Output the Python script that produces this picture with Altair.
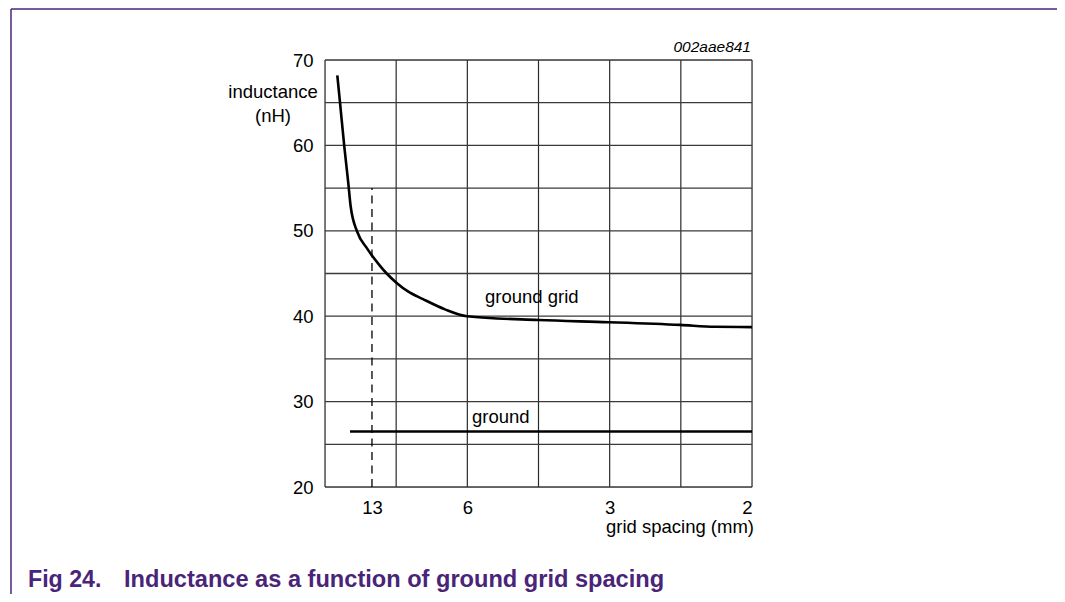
import altair as alt
import pandas as pd

# x positions are in grid-column units (6 columns across the plot)
curve_x = [0.173, 0.211, 0.271, 0.327, 0.36, 0.454, 0.586, 0.66, 0.773, 0.867, 1.007, 1.166, 1.377,
           1.686, 1.995, 3.0, 3.99, 4.99, 5.48, 6.0]
curve_y = [68.2, 65.0, 59.9, 55.6, 52.9, 49.86, 48.0, 47.1, 45.9, 45.0, 43.9, 42.9, 42.0,
           40.8, 40.0, 39.55, 39.3, 38.98, 38.76, 38.72]
ground_x = [0.351, 6.0]
ground_y = [26.5, 26.5]
marker_x = [0.66, 0.66]
marker_y = [20, 55]
vgrid = [0, 1, 2, 3, 4, 5, 6]
hgrid = [20, 25, 30, 35, 40, 45, 50, 55, 60, 65, 70]
ytick_values = [20, 30, 40, 50, 60, 70]
xtick_pos = [0.66, 2, 4, 6]
xtick_labels = ["13", "6", "3", "2"]

FONT = "Liberation Sans"
PURPLE = "#4a2479"
W, H = 427, 427
FS = 18.5

label_expr = "".join(
    f"abs(datum.value-{p})<0.01 ? '{l}' : " for p, l in zip(xtick_pos, xtick_labels)
) + "''"

xs = alt.Scale(domain=[0, 6], nice=False, zero=False)
ys = alt.Scale(domain=[20, 70], nice=False, zero=False)

xaxis = alt.Axis(values=xtick_pos, labelExpr=label_expr, title=None, grid=False, ticks=False,
                 tickSize=0, domain=False, labelFont=FONT, labelFontSize=FS, labelColor="#000",
                 labelPadding=11)
yaxis = alt.Axis(values=ytick_values, title=None, grid=False, ticks=False, tickSize=0, domain=False,
                 labelFont=FONT, labelFontSize=FS, labelColor="#000", labelPadding=12)

vg = alt.Chart(pd.DataFrame({"x": vgrid})).mark_rule(color="#2a2a2a", strokeWidth=1.2).encode(
    x=alt.X("x:Q", scale=xs, axis=xaxis))
hg = alt.Chart(pd.DataFrame({"y": hgrid})).mark_rule(color="#3a3a3a", strokeWidth=1.3).encode(
    y=alt.Y("y:Q", scale=ys, axis=yaxis))

curve = alt.Chart(pd.DataFrame({"x": curve_x, "y": curve_y})).mark_line(
    color="#000", strokeWidth=2.6, interpolate="monotone").encode(
    x=alt.X("x:Q", scale=xs), y=alt.Y("y:Q", scale=ys))
ground = alt.Chart(pd.DataFrame({"x": ground_x, "y": ground_y})).mark_line(
    color="#000", strokeWidth=2.6).encode(
    x=alt.X("x:Q", scale=xs), y=alt.Y("y:Q", scale=ys))
marker = alt.Chart(pd.DataFrame({"x": marker_x, "y": marker_y})).mark_line(
    color="#000", strokeWidth=1.3, strokeDash=[8, 5.5]).encode(
    x=alt.X("x:Q", scale=xs), y=alt.Y("y:Q", scale=ys))

def txt(text, x, y, align="left", size=FS, style="normal", weight="normal", color="#000"):
    return alt.Chart(pd.DataFrame({"t": [text]})).mark_text(
        align=align, baseline="middle", font=FONT, fontSize=size, fontStyle=style,
        fontWeight=weight, color=color).encode(x=alt.value(x), y=alt.value(y), text="t:N")

texts = [
    txt("inductance", -52, 32, align="center"),
    txt("(nH)", -52, 56, align="center"),
    txt("002aae841", 426, -13, align="right", size=15.5, style="italic"),
    txt("grid spacing (mm)", 429, 467, align="right"),
    txt("ground grid", 160, 237),
    txt("ground", 147, 357),
    txt("Fig 24.", -297, 520, size=23.2, weight="bold", color=PURPLE),
    txt("Inductance as a function of ground grid spacing", -201, 520, size=23.6, weight="bold", color=PURPLE),
]

frame_top = alt.Chart(pd.DataFrame({"a": [0]})).mark_rule(color=PURPLE, strokeWidth=1.5).encode(
    x=alt.value(-314), x2=alt.value(732), y=alt.value(-51))
frame_left = alt.Chart(pd.DataFrame({"a": [0]})).mark_rule(color=PURPLE, strokeWidth=1.5).encode(
    x=alt.value(-314), y=alt.value(-51), y2=alt.value(534))

chart = alt.layer(vg, hg, marker, ground, curve, *texts, frame_top, frame_left).properties(
    width=W, height=H,
    autosize=alt.AutoSizeParams(type="none"),
    padding={"left": 317, "top": 52, "right": 305, "bottom": 107},
).configure_view(stroke=None).configure(background="white")

chart.save("out.html", embed_options={"renderer": "svg", "actions": False})
